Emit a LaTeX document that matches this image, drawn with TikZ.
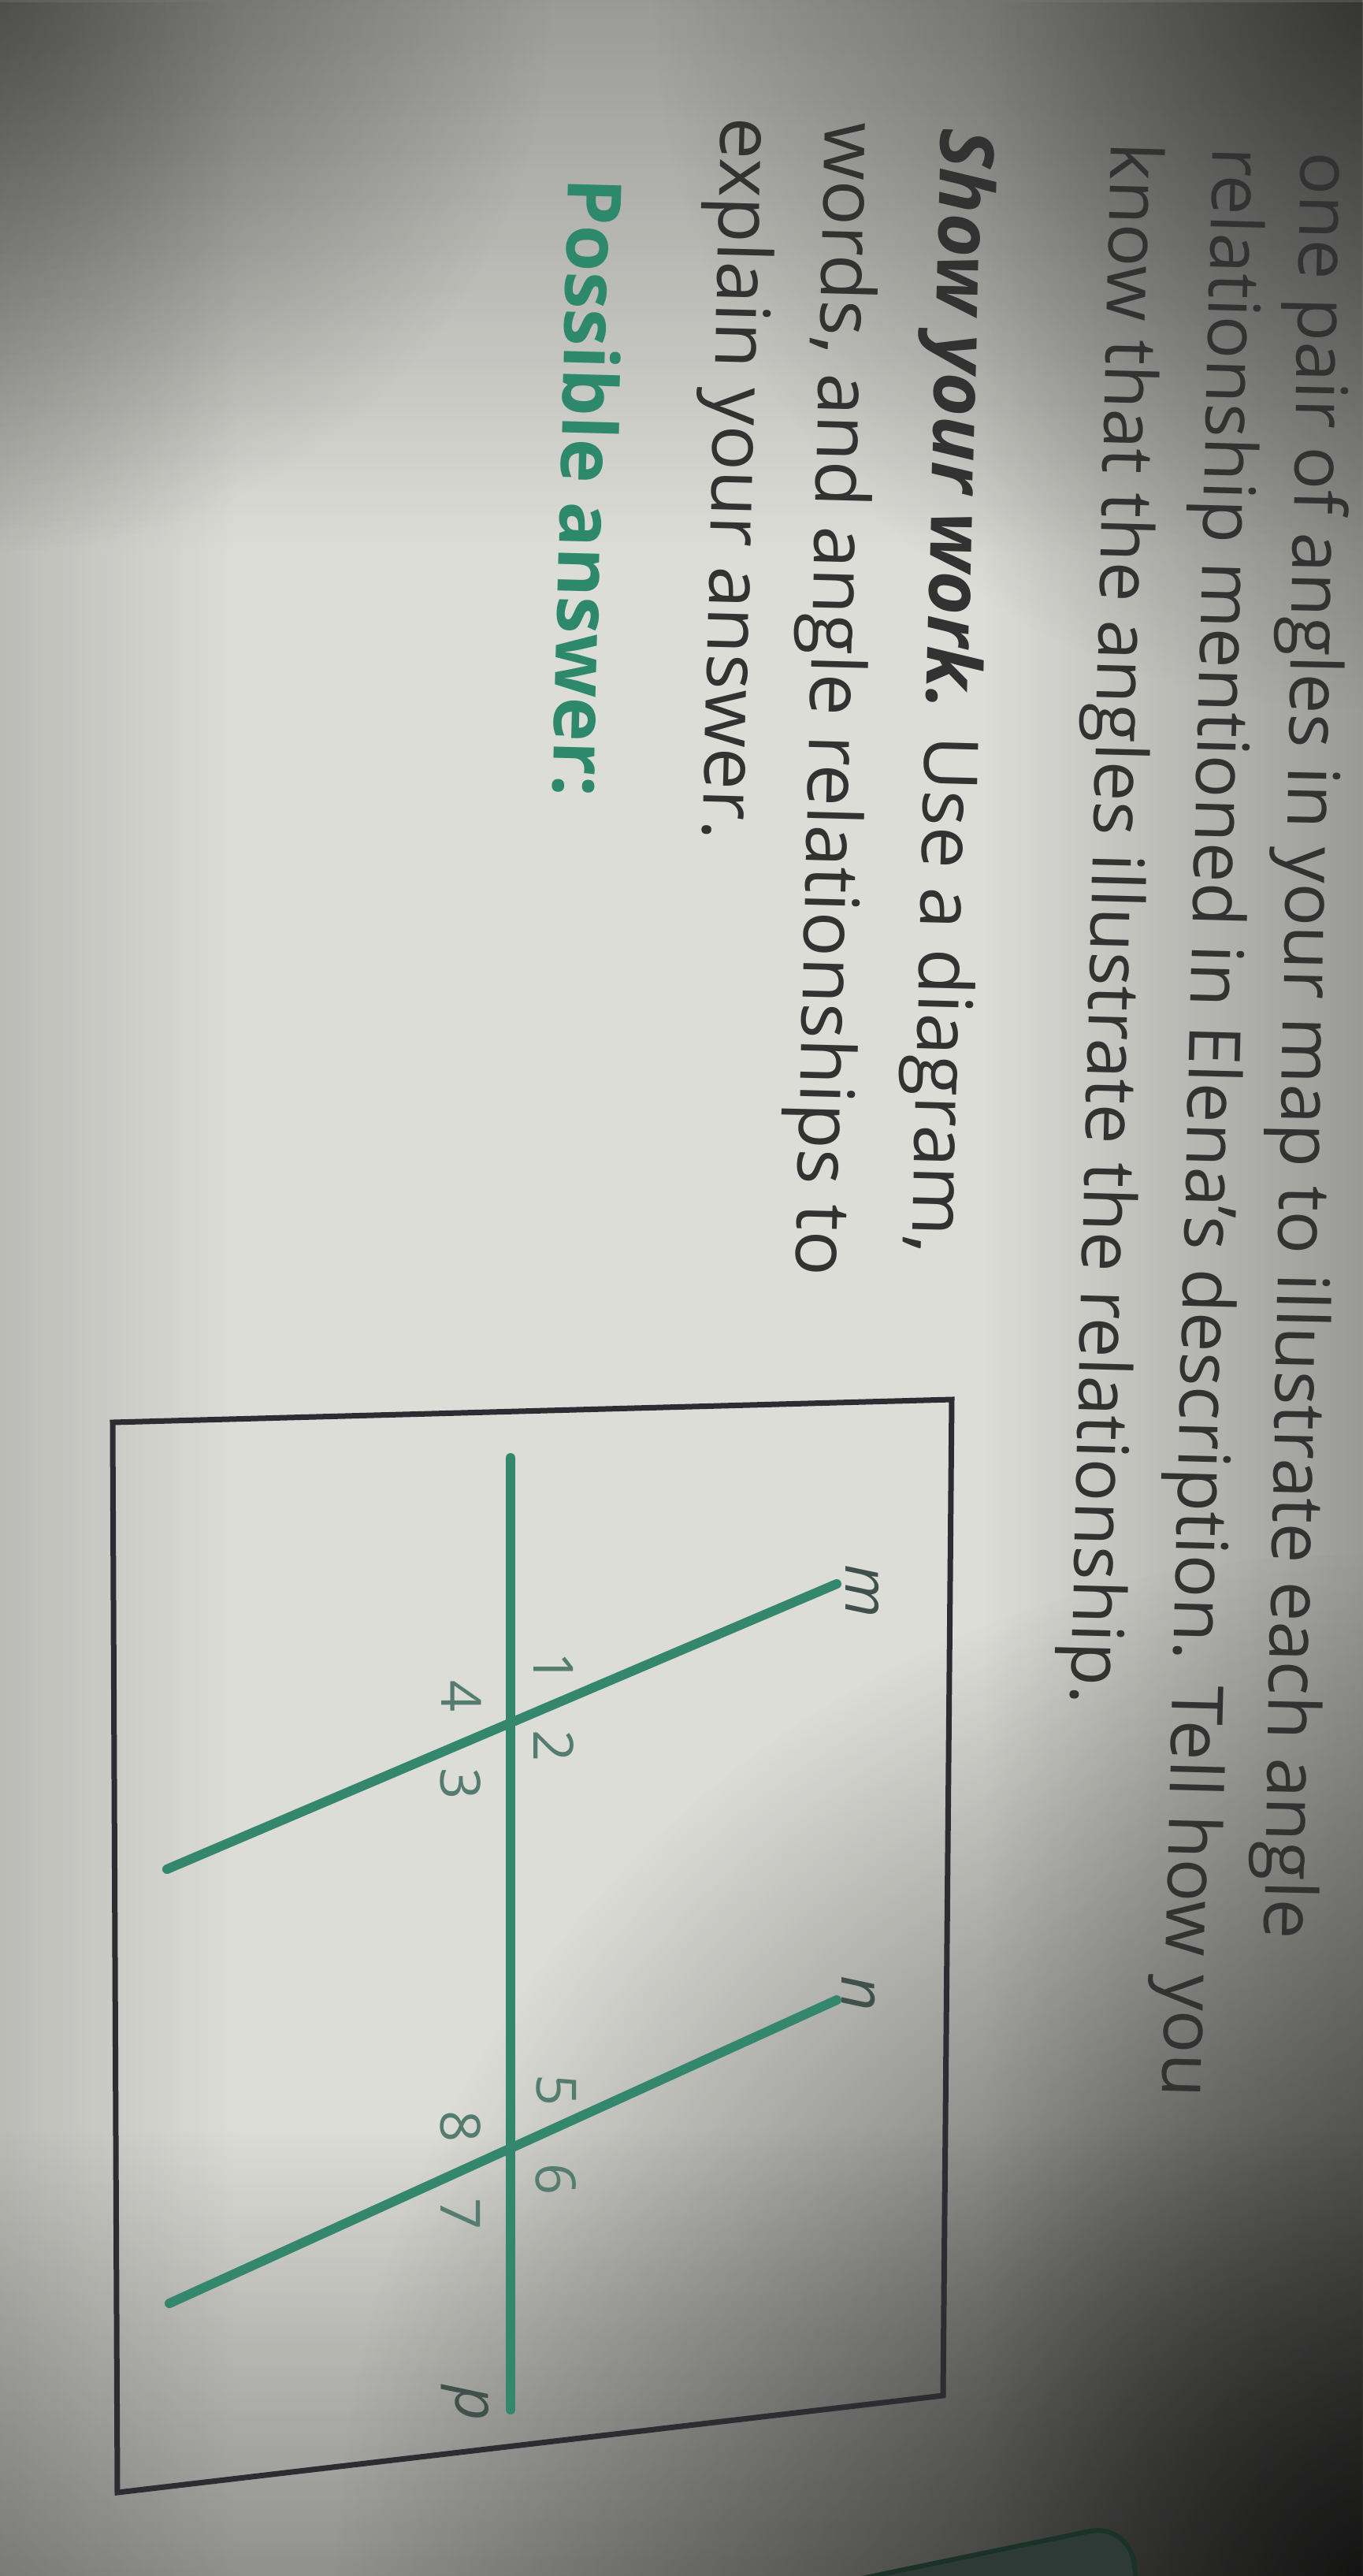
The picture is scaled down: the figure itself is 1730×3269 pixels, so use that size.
\documentclass[tikz,border=0pt]{standalone}
\usepackage{fontspec}
\setmainfont{Open Sans}
\usetikzlibrary{calc,fadings}
\definecolor{paper}{RGB}{220,221,215}
\definecolor{ink}{RGB}{50,50,50}
\definecolor{answer}{RGB}{46,136,108}
\definecolor{transv}{RGB}{52,134,108}
\definecolor{numc}{RGB}{84,124,112}
\definecolor{lblc}{RGB}{64,80,76}
\definecolor{boxc}{RGB}{44,44,50}
\definecolor{tabfill}{RGB}{46,58,54}
\definecolor{tabline}{RGB}{26,50,40}
\tikzfading[name=fadedown, top color=transparent!0, bottom color=transparent!100]
\tikzfading[name=fadeup, top color=transparent!100, bottom color=transparent!0]
\tikzfading[name=fadeleft, left color=transparent!0, right color=transparent!100]
\tikzfading[name=faderight, left color=transparent!100, right color=transparent!0]
\tikzfading[name=glow, inner color=transparent!0, outer color=transparent!100]
\begin{document}
\begin{tikzpicture}[x=0.1mm,y=-0.1mm,
    txt/.style={rotate=-91.5,anchor=base west,inner sep=0pt,text=ink,font=\fontsize{25.8}{30}\selectfont},
    para/.style={txt,font=\fontsize{27}{32}\selectfont},
    angnum/.style={rotate=-90,inner sep=0pt,text=numc,font=\fontsize{20}{24}\selectfont},
    linelbl/.style={rotate=-90,inner sep=0pt,text=lblc,font=\itshape\fontsize{22}{26}\selectfont},
    greenline/.style={draw=transv,line width=1.2mm,line cap=round},
    boxline/.style={draw=boxc,line width=0.7mm,line join=miter}]
  \useasboundingbox (0,0) rectangle (1730,3269);
  % paper and light
  \begin{scope}
    \clip (0,0) rectangle (1730,3269);
    \fill[paper] (0,0) rectangle (1730,3269);
    \fill[black,opacity=.3,path fading=fadedown] (0,0) rectangle (1730,700);
    \fill[black,opacity=.15,path fading=fadeleft] (0,0) rectangle (300,3269);
    \fill[black,opacity=.3,path fading=faderight] (1250,0) rectangle (1730,3269);
    \fill[black,opacity=.35,path fading=fadeup] (0,2700) rectangle (1730,3269);
    \fill[black,opacity=.5,path fading=glow] (1730,0) circle (900);
    \fill[black,opacity=.4,path fading=glow] (0,0) circle (700);
    \fill[black,opacity=.8,path fading=glow] (1730,3269) circle (1300);
    \draw[draw=tabline,fill=tabfill,line width=0.6mm,rounded corners=5mm] (958,3300) -- (1432,3202) -- (1446,3300);
  \end{scope}
  % text
  \node[txt,rotate=0.3] (l1) at (1652,192) {one pair of angles in your map to illustrate each angle};
  \node[txt] (l2) at (1540,186) {relationship mentioned in Elena’s description. Tell how you};
  \node[txt] (l3) at (1411,180) {know that the angles illustrate the relationship.};
  \node[para] (sw1) at (1195,162) {{\bfseries\itshape Show your work.} Use a diagram,};
  \node[para] (sw2) at (1048,154) {words, and angle relationships to};
  \node[para] (sw3) at (916,148) {explain your answer.};
  \node[para,text=answer,font=\bfseries\fontsize{27}{32}\selectfont] (ans) at (722,225) {Possible answer:};
  % box
  \coordinate (b1) at (143,1805);
  \coordinate (b2) at (1208,1776);
  \coordinate (b3) at (1197,3040);
  \coordinate (b4) at (149,3163);
  \draw[boxline] (b1) -- (b2) -- (b3) -- (b4) -- cycle;
  % lines p, m, n
  \coordinate (p1) at (648,1850);
  \coordinate (p2) at (648,3058);
  \coordinate (m1) at (212,2372);
  \coordinate (m2) at (1062,2010);
  \coordinate (n1) at (215,2923);
  \coordinate (n2) at (1062,2538);
  \draw[greenline] (p1) -- (p2);
  \draw[greenline] (m1) -- (m2);
  \draw[greenline] (n1) -- (n2);
  \node[linelbl] (mlab) at (1095,2019) {m};
  \node[linelbl] (nlab) at (1090,2530) {n};
  \node[linelbl] (plab) at (590,3050) {p};
  \node[angnum] (a1) at (703,2117) {1};
  \node[angnum] (a2) at (703,2216) {2};
  \node[angnum] (a3) at (585,2264) {3};
  \node[angnum] (a4) at (586,2153) {4};
  \node[angnum] (a5) at (706,2653) {5};
  \node[angnum] (a6) at (706,2766) {6};
  \node[angnum] (a7) at (585,2810) {7};
  \node[angnum] (a8) at (585,2699) {8};
\end{tikzpicture}
\end{document}
